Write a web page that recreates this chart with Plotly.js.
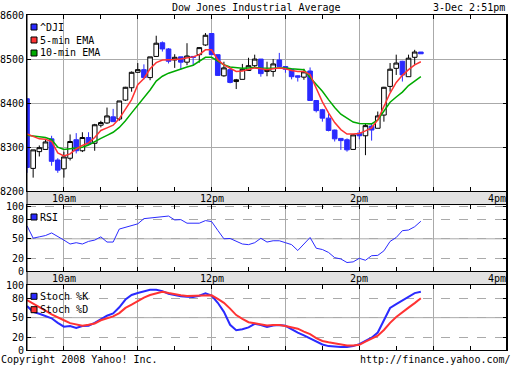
<!DOCTYPE html>
<html><head><meta charset="utf-8">
<script src="https://cdn.plot.ly/plotly-3.0.1.min.js"></script>
<style>html,body{margin:0;padding:0;background:#fff}#chart{width:512px;height:365px}</style>
</head><body><div id="chart"></div>
<script>
const times = ['09:30','09:35','09:40','09:45','09:50','09:55',
'10:00','10:05','10:10','10:15','10:20','10:25','10:30','10:35','10:40','10:45','10:50','10:55',
'11:00','11:05','11:10','11:15','11:20','11:25','11:30','11:35','11:40','11:45','11:50','11:55',
'12:00','12:05','12:10','12:15','12:20','12:25','12:30','12:35','12:40','12:45','12:50','12:55',
'13:00','13:05','13:10','13:15','13:20','13:25','13:30','13:35','13:40','13:45','13:50','13:55',
'14:00','14:05','14:10','14:15','14:20','14:25','14:30','14:35','14:40','14:45','14:50'];
const open = [8410,8252,8290,8295,8319,8271,8251,8275,8317,8292,
8322,8309,8350,8355,8369,8364,8407,8435,8470,8476,
8458,8506,8537,8523,8498,8505,8493,8506,8510,8532,
8558,8510,8462,8476,8449,8454,8474,8485,8500,8472,
8472,8498,8483,8477,8462,8459,8473,8406,8385,8366,
8339,8320,8317,8295,8332,8326,8348,8343,8373,8438,
8479,8495,8460,8504,8516];
const high = [8410,8294,8304,8319,8326,8275,8290,8329,8332,8334,
8334,8353,8360,8390,8387,8405,8437,8472,8491,8488,
8505,8553,8540,8525,8511,8505,8536,8506,8527,8559,
8558,8510,8494,8480,8455,8489,8503,8510,8500,8494,
8500,8514,8484,8478,8463,8478,8481,8407,8387,8376,
8340,8320,8320,8330,8339,8354,8354,8381,8437,8491,
8510,8496,8510,8521,8516];
const low = [8242,8231,8279,8295,8258,8242,8231,8270,8286,8289,
8305,8292,8345,8353,8358,8360,8405,8426,8469,8454,
8452,8506,8517,8490,8480,8476,8486,8485,8492,8530,
8510,8462,8460,8445,8432,8454,8474,8480,8460,8461,
8460,8483,8469,8454,8449,8453,8405,8379,8358,8336,
8313,8294,8290,8295,8318,8282,8315,8343,8358,8426,
8464,8449,8460,8487,8512];
const close = [8254,8294,8299,8312,8268,8248,8278,8313,8292,8322,
8307,8351,8356,8371,8358,8405,8436,8470,8476,8458,
8505,8536,8523,8495,8504,8493,8507,8504,8526,8554,
8510,8463,8480,8447,8453,8477,8485,8500,8467,8474,
8489,8483,8477,8460,8459,8471,8406,8383,8366,8338,
8319,8315,8294,8328,8326,8349,8339,8371,8436,8477,
8491,8464,8502,8516,8512];
const ema5 = [8330,8325,8319,8318,8313,8287,8280,8285,8296,8304,
8310,8322,8338,8344,8350,8365,8388,8408,8442,8456,
8478,8492,8498,8498,8499,8500,8502,8505,8510,8521,
8521,8498,8487,8479,8472,8473,8477,8480,8478,8476,
8478,8480,8478,8474,8472,8472,8465,8435,8403,8378,
8356,8340,8330,8330,8331,8337,8344,8362,8392,8423,
8447,8463,8476,8487,8494];
const ema10 = [8327,8325,8323,8322,8317,8300,8295,8297,8299,8300,
8305,8313,8320,8327,8334,8345,8360,8378,8395,8412,
8430,8450,8461,8468,8473,8477,8482,8486,8496,8504,
8504,8496,8487,8482,8480,8479,8480,8481,8480,8479,
8479,8480,8480,8478,8477,8476,8458,8443,8427,8408,
8390,8375,8365,8357,8354,8353,8353,8362,8381,8402,
8414,8425,8440,8451,8460];
const rsi = [70,51,53,55,59,54,48,42,44,42,
46,48,53,45,45,65,68,70,73,81,
82,83,83,85,79,79.5,74,74,74,78,
76.5,63,50,50.5,46,42,41,44,50.8,45,
47,47,44,41,32,42,52,35.5,33.5,29,
21,19,13.5,14.5,20,17,24,24.5,31.5,46,
52,62.5,63.5,68.6,77];
const stochK = [68,59,56,53,49,42,36,37,34,37,
37.5,42,47,53,56.5,66,78,85,88,91,
93,93,91,87,84.5,83,82.5,82,84,87.5,
84,73,59,39,30.5,32,35,40.5,38.5,35.5,
38,38.5,37.5,32,27,22.5,18,13,8.5,6,
4.8,4.6,4.6,6,9,14,19,27,46,65,
71,76.5,82.5,88,90];
const stochD = [77,72,66,61,55,50,46,41.5,39,37.5,
39,41,46,49,52,57,65,70,76,81,
85,88,90,88,86,84.5,83.5,83.5,83.5,84.5,
84.5,79,73,64,54,48,43,41.5,40,37.8,
38.5,38.5,37,35,33,28.5,24.5,18.5,14,12,
10,8.5,7,7,8,13,17,22,31,42,
51,59,65.5,72.5,80];
const priceTicks = [8200,8300,8400,8500,8600];
const oscTicks = [0,20,50,80,100];
const tickTimes = ['10:00','12:00','14:00','16:00'];
const tickLabels = ['10am','12pm','2pm','4pm'];

const day = '2008-12-03 ';
const x = times.map(t => day + t);
const W = 512, H = 365, M = {l:27, r:5, t:15, b:15};
const px2x = p => (p - M.l) / (W - M.l - M.r);
const px2y = p => (H - M.b - p) / (H - M.t - M.b);
const MONO = 'DejaVu Sans Mono, monospace';
const FONT = {family: MONO, size: 10, color: '#000'};
const GRID = '#aaaaaa';
const BLUE = '#2a2aff', RED = '#ff3333', GREEN = '#00aa00';

function xAxis(anchor, extra) {
  return Object.assign({
    type: 'date', range: [day + '09:30', day + '16:00'], anchor: anchor,
    tick0: day + '10:00', dtick: 3600000,
    showgrid: true, gridcolor: GRID, gridwidth: 1,
    ticks: 'inside', ticklen: 4, tickcolor: '#000', showticklabels: false,
    showline: true, linecolor: '#000', linewidth: 1, mirror: 'ticks',
    minor: {dtick: 1800000, ticks: 'inside', ticklen: 4, tickcolor: '#000', showgrid: false},
    zeroline: false, fixedrange: true
  }, extra || {});
}
function yAxis(domain, range, ticks, extra) {
  return Object.assign({
    domain: domain, range: range, tickvals: ticks, ticktext: ticks.map(String),
    showgrid: true, gridcolor: GRID, gridwidth: 1,
    ticks: 'inside', ticklen: 4, tickcolor: '#000', tickfont: FONT,
    showline: true, linecolor: '#000', linewidth: 1, mirror: 'ticks',
    zeroline: false, fixedrange: true
  }, extra || {});
}

const traces = [
  {type: 'candlestick', x: x, open: open, high: high, low: low, close: close,
   xaxis: 'x', yaxis: 'y', whiskerwidth: 0, showlegend: false, hoverinfo: 'skip',
   increasing: {line: {color: '#000', width: 1}, fillcolor: '#fff'},
   decreasing: {line: {color: BLUE, width: 1}, fillcolor: BLUE}},
  {type: 'scatter', mode: 'lines', x: x, y: ema10, xaxis: 'x', yaxis: 'y',
   line: {color: GREEN, width: 1.5}, showlegend: false},
  {type: 'scatter', mode: 'lines', x: x, y: ema5, xaxis: 'x', yaxis: 'y',
   line: {color: RED, width: 1.5}, showlegend: false},
  {type: 'scatter', mode: 'lines', x: x, y: rsi, xaxis: 'x2', yaxis: 'y2',
   line: {color: BLUE, width: 1}, showlegend: false},
  {type: 'scatter', mode: 'lines', x: x, y: stochK, xaxis: 'x3', yaxis: 'y3',
   line: {color: BLUE, width: 2}, showlegend: false},
  {type: 'scatter', mode: 'lines', x: x, y: stochD, xaxis: 'x3', yaxis: 'y3',
   line: {color: RED, width: 2}, showlegend: false}
];

const mainDom = [px2y(191.3), 1];
const rsiDom = [px2y(271.3), px2y(205)];
const stoDom = [0, px2y(285)];

const shapes = [
  {type: 'rect', xref: 'paper', yref: 'paper', x0: 0, x1: 1, y0: rsiDom[1], y1: mainDom[0],
   fillcolor: '#e2e2e2', line: {width: 0}, layer: 'below'},
  {type: 'rect', xref: 'paper', yref: 'paper', x0: 0, x1: 1, y0: stoDom[1], y1: rsiDom[0],
   fillcolor: '#e2e2e2', line: {width: 0}, layer: 'below'},
  {type: 'line', xref: 'x2', yref: 'y2', x0: day + '09:30', x1: day + '16:00', y0: 50, y1: 50,
   line: {color: GRID, width: 1}, layer: 'below'},
  {type: 'line', xref: 'x3', yref: 'y3', x0: day + '09:30', x1: day + '16:00', y0: 50, y1: 50,
   line: {color: GRID, width: 1}, layer: 'below'},
  {type: 'line', xref: 'paper', yref: 'paper', x0: 1, x1: 1, y0: 0, y1: 1,
   line: {color: '#000', width: 2}, layer: 'above'},
  {type: 'line', xref: 'paper', yref: 'paper', x0: 0, x1: 0, y0: 0, y1: 1,
   line: {color: '#000', width: 1}, layer: 'above'}
];

const annotations = [];
function txt(t, xp, yp, xanchor, xref) {
  annotations.push({text: t, x: xp, y: yp, xref: xref || 'paper', yref: 'paper',
    xanchor: xanchor, yanchor: 'middle', showarrow: false, font: FONT, borderpad: 0});
}
txt('Dow Jones Industrial Average', px2x(256), px2y(7.5), 'center');
txt('3-Dec 2:51pm', px2x(506), px2y(7.5), 'right');
txt('Copyright 2008 Yahoo! Inc.', px2x(0), px2y(359), 'left');
txt('http://finance.yahoo.com/', px2x(512), px2y(359), 'right');
tickTimes.forEach((t, i) => {
  const anc = i === tickTimes.length - 1 ? 'right' : 'center';
  txt(tickLabels[i], day + t, px2y(198), anc, 'x');
  txt(tickLabels[i], day + t, px2y(278), anc, 'x');
});

const legendItems = [
  ['^DJI', BLUE, 27], ['5-min EMA', RED, 40], ['10-min EMA', GREEN, 53],
  ['RSI', BLUE, 217], ['Stoch %K', BLUE, 296.3], ['Stoch %D', RED, 309.7]
];
legendItems.forEach(([label, color, cy]) => {
  shapes.push({type: 'rect', xref: 'paper', yref: 'paper',
    x0: px2x(31), x1: px2x(37), y0: px2y(cy + 3), y1: px2y(cy - 3),
    fillcolor: color, line: {color: '#000', width: 1}, layer: 'above'});
  txt(label, px2x(39), px2y(cy), 'left');
});

const layout = {
  width: W, height: H, margin: M,
  paper_bgcolor: '#fff', plot_bgcolor: '#fff',
  showlegend: false, hovermode: false, dragmode: false,
  boxgap: 0.25, boxgroupgap: 0,
  font: FONT,
  xaxis: xAxis('y', {rangeslider: {visible: false}}),
  xaxis2: xAxis('y2', {matches: 'x'}),
  xaxis3: xAxis('y3', {matches: 'x'}),
  yaxis: yAxis(mainDom, [8200, 8600], priceTicks),
  yaxis2: yAxis(rsiDom, [0, 102], oscTicks, {griddash: 'dash'}),
  yaxis3: yAxis(stoDom, [0, 100.5], oscTicks, {griddash: 'dash'}),
  shapes: shapes,
  annotations: annotations
};

Plotly.newPlot('chart', traces, layout, {staticPlot: true, displayModeBar: false});
</script>
</body></html>
